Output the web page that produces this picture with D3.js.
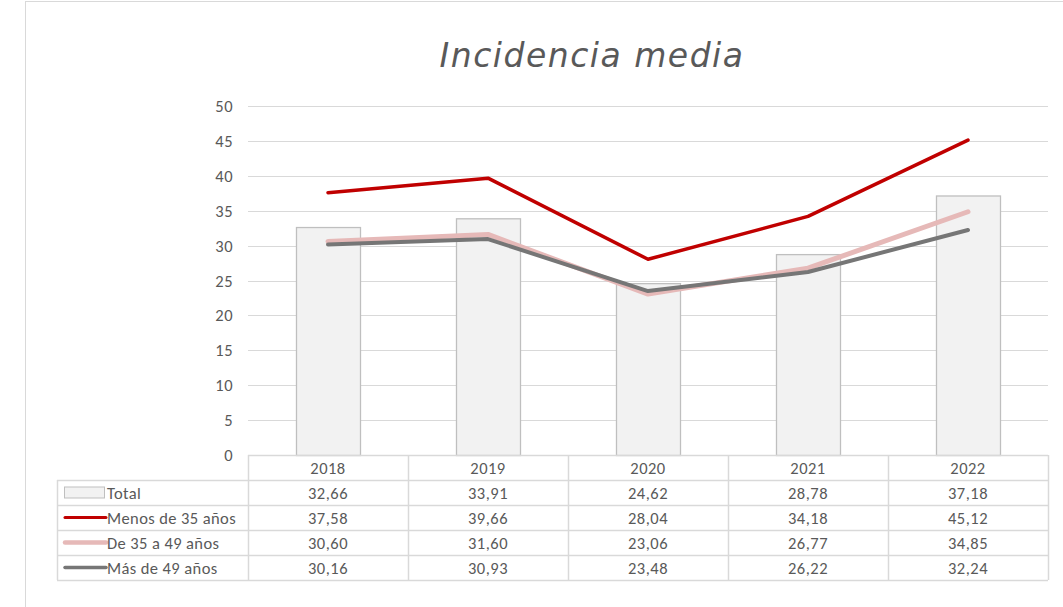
<!DOCTYPE html>
<html><head><meta charset="utf-8">
<script src="https://cdn.jsdelivr.net/npm/d3@7"></script>
<style>body{margin:0;background:#fff}svg{display:block}</style>
</head><body>
<svg id="c" width="1063" height="607"></svg>
<script>
const years = ["2018","2019","2020","2021","2022"];
const total = [32.66,33.91,24.62,28.78,37.18];
const menos35 = [37.58,39.66,28.04,34.18,45.12];
const de35a49 = [30.60,31.60,23.06,26.77,34.85];
const mas49 = [30.16,30.93,23.48,26.22,32.24];
const yTicks = [0,5,10,15,20,25,30,35,40,45,50];
const seriesNames = ["Total","Menos de 35 años","De 35 a 49 años","Más de 49 años"];

(function(){
const svg = d3.select("#c");
const font = "Calibri, Carlito, 'Liberation Sans', sans-serif";
const txt = "#595959";
const fs = 16.5;

svg.append("rect").attr("x",25.5).attr("y",1.5).attr("width",1100).attr("height",700)
  .attr("fill","none").attr("stroke","#D9D9D9").attr("stroke-width",1);

svg.append("text").attr("x",592).attr("y",67).attr("text-anchor","middle")
  .attr("font-family","'Segoe Print','Comic Sans MS','DejaVu Sans',sans-serif")
  .attr("font-size",33).attr("fill",txt).attr("font-style","italic").attr("letter-spacing",1.5)
  .text("Incidencia media");

const x = d3.scaleBand().domain(years).range([248,1048]).paddingInner(0).paddingOuter(0);
const y = d3.scaleLinear().domain([0,50]).range([455,106]);

svg.append("g").selectAll("line").data(yTicks.filter(t=>t>0)).join("line")
  .attr("x1",248).attr("x2",1048).attr("y1",d=>Math.round(y(d))+0.5).attr("y2",d=>Math.round(y(d))+0.5)
  .attr("stroke","#D9D9D9").attr("stroke-width",1.2);

svg.append("g").selectAll("text").data(yTicks).join("text")
  .attr("x",233).attr("y",d=>y(d)+6).attr("text-anchor","end").attr("letter-spacing",0.5)
  .attr("font-family",font).attr("font-size",fs).attr("fill",txt).text(d=>d);

const bw = 64;
svg.append("g").selectAll("rect").data(total).join("rect")
  .attr("x",(d,i)=>x(years[i])+x.bandwidth()/2-bw/2+0.5)
  .attr("y",d=>y(d)+0.5).attr("width",bw).attr("height",d=>y(0)-y(d))
  .attr("fill","#F2F2F2").attr("stroke","#BFBFBF").attr("stroke-width",1.3);

const lineGen = d3.line().x((d,i)=>x(years[i])+x.bandwidth()/2).y(d=>y(d));
const lines = [
  {data:de35a49, color:"#E6B9B8", w:5},
  {data:mas49, color:"#767676", w:4},
  {data:menos35, color:"#C00000", w:3.5}
];
lines.forEach(l=>{
  svg.append("path").attr("d",lineGen(l.data)).attr("fill","none")
    .attr("stroke",l.color).attr("stroke-width",l.w).attr("stroke-linejoin","round").attr("stroke-linecap","round");
});

const rowH = 25, tTop = 455, left = 57, right = 1048;
const g = svg.append("g");
const gridC = "#D9D9D9";
g.append("line").attr("x1",248).attr("x2",right).attr("y1",tTop+0.5).attr("y2",tTop+0.5).attr("stroke",gridC).attr("stroke-width",1.5);
for(let r=1;r<=5;r++){
  g.append("line").attr("x1",left).attr("x2",right).attr("y1",tTop+r*rowH+0.5).attr("y2",tTop+r*rowH+0.5)
    .attr("stroke",gridC).attr("stroke-width",1.5);
}
g.append("line").attr("x1",left+0.5).attr("x2",left+0.5).attr("y1",tTop+rowH).attr("y2",tTop+5*rowH).attr("stroke",gridC).attr("stroke-width",1.5);
years.forEach((yr)=>{
  const xx = x(yr)+0.5;
  g.append("line").attr("x1",xx).attr("x2",xx).attr("y1",tTop).attr("y2",tTop+5*rowH).attr("stroke",gridC).attr("stroke-width",1.5);
});
g.append("line").attr("x1",right+0.5).attr("x2",right+0.5).attr("y1",tTop).attr("y2",tTop+5*rowH).attr("stroke",gridC).attr("stroke-width",1.5);

g.selectAll("text.h").data(years).join("text").attr("class","h")
  .attr("x",d=>x(d)+x.bandwidth()/2).attr("y",tTop+rowH/2+6).attr("text-anchor","middle").attr("letter-spacing",0.5)
  .attr("font-family",font).attr("font-size",fs).attr("fill",txt).text(d=>d);

const rows = [total,menos35,de35a49,mas49];
const fmt = v=>v.toFixed(2).replace(".",",");
rows.forEach((row,ri)=>{
  const cy = tTop+(ri+1)*rowH+rowH/2;
  row.forEach((v,i)=>{
    g.append("text").attr("x",x(years[i])+x.bandwidth()/2).attr("y",cy+6).attr("text-anchor","middle").attr("letter-spacing",0.5)
      .attr("font-family",font).attr("font-size",fs).attr("fill",txt).text(fmt(v));
  });
  if(ri===0){
    g.append("rect").attr("x",64.5).attr("y",cy-5.5).attr("width",40).attr("height",11)
      .attr("fill","#F2F2F2").attr("stroke","#BFBFBF").attr("stroke-width",1);
  } else {
    const l = [null,lines[2],lines[0],lines[1]][ri];
    g.append("line").attr("x1",65).attr("x2",106).attr("y1",cy).attr("y2",cy)
      .attr("stroke",l.color).attr("stroke-width",l.w-0.5).attr("stroke-linecap","round");
  }
  g.append("text").attr("x",107).attr("y",cy+6).attr("font-family",font).attr("font-size",fs).attr("letter-spacing",0.4)
    .attr("fill",txt).text(seriesNames[ri]);
});
})();
</script>
</body></html>
